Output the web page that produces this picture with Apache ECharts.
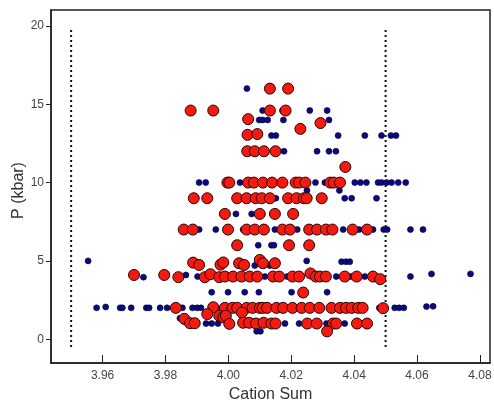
<!DOCTYPE html>
<html><head><meta charset="utf-8">
<script src="https://cdn.jsdelivr.net/npm/echarts@6/dist/echarts.min.js"></script>
<style>html,body{margin:0;padding:0;background:#fff}#c{width:494px;height:403px}</style>
</head><body><div id="c"></div>
<script>
// Small-dot series (navy): [cation sum, P kbar]
const bluePts = [
 [4.0059,16],
 [4.0109,14.6],[4.0172,14.6],[4.0259,14.6],[4.0314,14.6],
 [4.0098,14],[4.0109,14],[4.0125,14],[4.0175,14],[4.0320,14],
 [4.0137,13],[4.0151,13],[4.0349,13],[4.0434,13],[4.0487,13],[4.0517,13],[4.0533,13],
 [4.0177,12],[4.0282,12],[4.0320,12],[4.0342,12],
 [3.9907,10],[3.9928,10],[4.0037,10],[4.0277,10],[4.0307,10],[4.0402,10],[4.0420,10],[4.0439,10],
 [4.0476,10],[4.0487,10],[4.0503,10],[4.0519,10],[4.0540,10],[4.0564,10],
 [4.0250,9.5],[4.0353,9.5],
 [4.0151,9],[4.0370,9],[4.0392,9],[4.0471,9],
 [4.0024,8],[4.0074,8],
 [3.9907,7],[3.9960,7],[4.0047,7],[4.0148,7],[4.0219,7],[4.0365,7],[4.0416,7],[4.0460,7],
 [4.0494,7],[4.0505,7],[4.0579,7],[4.0619,7],
 [4.0095,6],[4.0137,6],[4.0145,6],
 [3.9554,5],[4.0084,4.7],[4.0132,4.7],[4.0249,5],[4.0360,4.95],[4.0374,4.95],[4.0386,4.95],
 [3.9730,3.96],[3.9865,4.1],[3.9902,4],[4.0116,4],[4.0187,4],[4.0343,4],[4.0389,4],[4.0434,4],
 [4.0579,4],[4.0646,4.17],[4.0770,4.17],
 [3.9947,3],[3.9999,3],[4.0052,3],[4.0097,3],[4.0201,3],[4.0314,3],
 [3.9581,2],[3.9610,2.06],[3.9656,2],[3.9663,2],[3.9691,2],[3.9739,2],[3.9748,2],[3.9783,2],
 [3.9805,2],[3.9854,2],[3.9886,2],[3.9901,2],[3.9913,2],[3.9982,2],[4.0077,2],[4.0480,2],
 [4.0529,2],[4.0543,2],[4.0558,2],[4.0630,2.08],[4.0651,2.1],
 [3.9846,1.34],[3.9859,1.15],[3.9929,1],[3.9947,1],[3.9967,1],[4.0042,1],[4.0180,1],
 [4.0225,1],[4.0312,1],[4.0370,1],
 [4.0090,0.5],[4.0102,0.5]
];
// Large-circle series (red): [cation sum, P kbar]
const redPts = [
 [4.0132,16],[4.0190,16],
 [3.9880,14.6],[3.9952,14.6],[4.0132,14.6],[4.0182,14.6],
 [4.0063,14.05],[4.0293,13.8],[4.0229,13.43],
 [4.0061,13.05],[4.0092,13.1],
 [4.0060,12],[4.0084,12],[4.0113,12],[4.0150,12],
 [4.0372,11],
 [3.9997,10],[4.0003,10],[4.0063,10],[4.0081,10],[4.0110,10],[4.0139,10],[4.0172,10],
 [4.0214,10],[4.0225,10],[4.0245,10],[4.0324,10],[4.0335,10],[4.0355,10],
 [3.9890,9],[3.9933,9],[4.0028,9],[4.0058,9],[4.0087,9],[4.0106,9],[4.0132,9],[4.0190,9],
 [4.0217,9],[4.0240,9],[4.0249,9],[4.0297,9],
 [3.9989,8],[4.0100,8],[4.0148,8],[4.0206,8],
 [3.9858,7],[3.9887,7],[3.9999,7],[4.0058,7],[4.0084,7],[4.0113,7],[4.0172,7],[4.0196,7],
 [4.0257,7],[4.0282,7],[4.0310,7],[4.0331,7],[4.0395,7],[4.0441,7],
 [4.0028,6],[4.0193,6],[4.0257,6],
 [3.9888,4.89],[3.9907,4.74],[3.9975,4.76],[3.9984,4.9],[4.0034,4.85],[4.0050,4.74],
 [4.0100,5.06],[4.0110,4.85],[4.0148,4.85],
 [3.9700,4.1],[3.9796,4.1],[3.9841,3.96],[3.9925,3.96],[3.9943,4.15],[3.9971,3.96],[3.9989,4],
 [4.0015,4],[4.0042,4],[4.0068,4],[4.0092,4],[4.0142,4],[4.0162,4],[4.0204,4],[4.0225,4],
 [4.0261,4.2],[4.0278,4],[4.0291,4],[4.0310,4],[4.0370,4],[4.0408,4],[4.0460,4],[4.0483,3.83],
 [4.0238,2.98],
 [3.9833,2],[3.9952,2.04],[3.9989,2],[4.0013,2],[4.0028,2],[4.0058,2],[4.0077,2],[4.0100,2],
 [4.0109,2],[4.0123,2],[4.0153,2],[4.0174,2],[4.0204,2],[4.0233,2],[4.0259,2],[4.0289,2],
 [4.0328,2],[4.0355,2],[4.0374,2],[4.0392,2],[4.0413,2],[4.0427,2],[4.0492,1.98],
 [3.9860,1.3],[3.9933,1.6],[3.9971,1.5],[3.9984,1.4],[3.9992,1.5],[4.0043,1.7],
 [3.9878,1.02],[3.9893,1.02],[4.0003,0.98],[4.0047,1.05],[4.0066,1.05],[4.0088,1],[4.0112,1.05],
 [4.0137,1],[4.0150,1],[4.0251,1],[4.0281,1],[4.0333,1],[4.0343,1],[4.0409,1],[4.0441,1],
 [4.0314,0.5]
];
// Dotted reference limits
const refX = [3.95, 4.05];
const refYSpan = [-0.5, 19.8];
const xTicks = [3.96, 3.98, 4.00, 4.02, 4.04, 4.06, 4.08];
const yTicks = [0, 5, 10, 15, 20];

const font = 'Liberation Sans, Arial, sans-serif';
const refSeries = refX.map(x => ({
  type: 'line', data: refYSpan.map(y => [x, y]), symbol: 'none', silent: true,
  lineStyle: { color: '#111', width: 2, type: [2, 3] }, z: 1
}));

const chart = echarts.init(document.getElementById('c'), null, { renderer: 'canvas' });
chart.setOption({
  animation: false,
  grid: { left: 51, right: 4, top: 10, bottom: 40, outerBoundsMode: 'none', containLabel: false,
          show: true, borderColor: '#222', borderWidth: 1.5, backgroundColor: 'transparent' },
  xAxis: {
    type: 'value', min: 3.9436, max: 4.0832,
    name: 'Cation Sum', nameLocation: 'middle', nameGap: 24, nameMoveOverlap: false,
    nameTextStyle: { fontFamily: font, fontSize: 16, color: '#333' },
    axisLine: { show: true, onZero: false, lineStyle: { color: '#222', width: 1.5 } },
    axisTick: { show: true, inside: true, length: 8, customValues: xTicks, lineStyle: { color: '#222', width: 1 } },
    axisLabel: { customValues: xTicks, margin: 7, fontFamily: font, fontSize: 12, color: '#444', formatter: v => v.toFixed(2) },
    splitLine: { show: false }
  },
  yAxis: {
    type: 'value', min: -1.52, max: 21.02,
    name: 'P (kbar)', nameLocation: 'middle', nameGap: 24, nameRotate: 90, nameMoveOverlap: false,
    nameTextStyle: { fontFamily: font, fontSize: 16, color: '#333', padding: [0, 8, 0, 0] },
    axisLine: { show: true, onZero: false, lineStyle: { color: '#222', width: 1.5 } },
    axisTick: { show: true, inside: false, length: 5, customValues: yTicks, lineStyle: { color: '#222', width: 1 } },
    axisLabel: { customValues: yTicks, margin: 7, fontFamily: font, fontSize: 12, color: '#444' },
    splitLine: { show: false }
  },
  series: [
    ...refSeries,
    { type: 'scatter', data: bluePts, symbolSize: 6, z: 2,
      itemStyle: { color: '#0a0a7e', borderColor: '#000033', borderWidth: 0.6, opacity: 1 } },
    { type: 'scatter', data: redPts, symbolSize: 11, z: 3,
      itemStyle: { color: '#f51a0f', borderColor: '#2a0000', borderWidth: 1, opacity: 1 } }
  ]
});
</script></body></html>
